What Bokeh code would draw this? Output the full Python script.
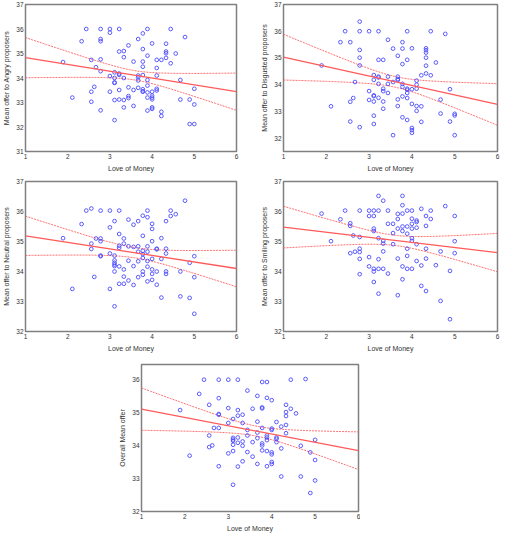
import numpy as np
from bokeh.plotting import figure
from bokeh.models import Range1d, FixedTicker, Spacer
from bokeh.layouts import column, row
from bokeh.embed import file_html
from bokeh.resources import INLINE

# Love of Money levels (x) shared by all panels
levels = [1.89, 2.11, 2.33, 2.44, 2.56, 2.63, 2.67, 2.78, 3.0, 3.11, 3.22, 3.33, 3.44,
          3.56, 3.67, 3.78, 3.89, 4.0, 4.11, 4.22, 4.33, 4.44, 4.56, 4.67, 4.78, 4.89, 5.0]

# Mean offers per level, one nested list per panel (aligned with levels)
angry_y = [[34.65], [33.2], [35.5], [36.0], [33.44, 33.03, 34.74], [33.64], [34.44],
           [36.0, 35.59, 35.5, 34.76, 34.28, 32.68], [36.0, 35.85, 34.08, 33.44],
           [34.23, 34.0, 33.82, 33.8, 33.1, 32.28], [36.0, 35.08, 34.18, 34.13, 33.51, 33.12],
           [35.1, 34.85, 34.0, 33.1, 32.8], [35.33, 33.62, 33.26, 33.18], [34.67, 33.51, 32.86],
           [35.59, 34.1, 34.03, 33.9, 33.6], [35.82, 35.18, 34.67, 34.46, 34.12, 33.54, 33.46, 33.44],
           [36.0, 34.91, 33.92, 33.69, 33.41, 33.2, 32.67], [35.41, 33.44, 33.28, 33.2, 33.13, 32.8, 32.74],
           [34.74, 34.41, 34.1, 33.56, 33.49], [34.74, 32.62, 32.45], [35.4, 35.08, 35.01, 34.82],
           [36.0, 34.6], [35.0], [33.92, 33.12], [35.67], [32.12, 33.12], [33.56, 32.92, 32.12]]

disgusted_y = [[34.72], [33.19], [35.59], [36.0], [35.59, 33.36, 32.62], [33.5], [34.1],
               [36.36, 36.0, 35.3, 35.01, 34.72, 32.41], [36.0, 33.76, 33.43],
               [34.36, 34.18, 33.6, 33.57, 33.37, 32.84, 32.53], [36.0, 34.93, 34.3, 34.27, 34.03, 33.51],
               [34.93, 33.85, 33.76, 33.37, 33.1], [35.68, 34.3, 34.03, 33.69], [35.35, 34.1, 32.11],
               [35.08, 34.3, 34.21, 34.17, 33.45, 33.2], [35.59, 35.35, 34.77, 34.03, 33.92, 33.56, 32.78],
               [36.0, 34.93, 33.85, 33.81, 33.69, 33.5, 32.68], [35.36, 33.83, 33.28, 32.38, 32.3, 32.2],
               [34.15, 34.0, 33.85, 33.2, 33.02], [34.35, 33.19, 32.61],
               [35.36, 35.29, 35.2, 35.01, 34.71, 34.42], [36.0, 34.35], [34.83], [33.44, 32.92],
               [35.9], [33.83, 32.62], [32.91, 32.85, 32.11]]

neutral_y = [[35.11], [33.42], [35.58], [36.03], [36.1, 34.93, 34.75], [33.82], [35.1],
             [36.03, 35.1, 35.01, 34.53, 34.51], [36.03, 35.47, 34.6, 33.42],
             [35.68, 34.53, 34.37, 34.29, 34.23, 34.18, 34.0, 32.84], [36.03, 35.25, 34.86, 34.79, 34.17, 33.59],
             [35.1, 34.93, 34.07, 33.83, 33.59], [35.73, 34.84, 34.36, 33.7], [35.56, 34.82, 34.18, 33.55],
             [35.68, 34.84, 34.66, 34.34, 33.81], [35.86, 35.19, 34.69, 34.58, 34.45, 34.0, 33.89],
             [36.03, 35.81, 34.84, 34.66, 34.35, 34.16, 33.67], [35.59, 35.42, 35.01, 34.42, 34.07, 33.92, 33.72],
             [34.76, 34.74, 34.0, 33.56], [35.11, 34.42, 33.13], [35.68, 34.76, 34.6, 34.0, 33.92],
             [36.03, 35.85], [35.91], [34.0, 33.17], [36.36], [34.29, 33.12], [34.51, 33.81, 32.59]]

smiling_y = [[35.93], [35.01], [35.74], [36.03], [35.61, 35.52, 34.61], [35.2], [34.66],
             [36.03, 35.15, 34.76, 34.65, 34.42, 33.91], [36.03, 35.85, 34.48, 34.17],
             [36.03, 35.85, 35.43, 35.35, 34.09, 34.0, 33.65], [36.52, 36.03, 35.11, 34.41, 34.09, 33.26],
             [36.36, 35.02, 34.93, 34.67, 34.09], [36.03, 35.59, 33.93], [35.59, 35.28, 34.91],
             [35.92, 35.75, 35.43, 34.43, 33.21], [36.52, 36.21, 35.93, 35.5, 35.35, 34.17, 33.74],
             [36.03, 35.5, 35.26, 34.76, 34.52, 34.09], [36.03, 35.76, 35.59, 35.43, 35.11, 35.02, 34.09],
             [35.7, 35.65, 35.46, 34.91, 34.35], [36.09, 34.2, 33.52], [35.85, 35.52, 34.76, 34.43, 33.35],
             [36.03, 35.75], [34.21], [34.67, 33.02], [36.18], [34.02, 32.41], [35.85, 35.01, 34.61]]

overall_y = [[35.07], [33.69], [35.56], [35.99], [35.23, 34.3, 33.95], [34.0], [34.53],
             [35.99, 35.43, 34.95, 34.93, 34.53, 33.37], [35.99, 35.13, 34.68, 33.76],
             [34.8, 34.23, 34.18, 34.14, 34.02, 33.83, 32.81], [35.99, 35.07, 34.9, 34.24, 34.08, 33.36],
             [34.93, 34.68, 34.12, 33.99, 33.52], [35.66, 34.47, 34.3, 33.8], [35.11, 34.1, 33.66],
             [35.5, 34.72, 34.39, 34.22, 33.44], [35.92, 35.15, 35.12, 34.53, 34.06, 34.0, 33.85],
             [35.92, 35.44, 34.3, 34.24, 34.16, 33.83, 33.37], [35.37, 34.51, 34.47, 33.79, 33.73, 33.5, 33.44],
             [34.71, 34.24, 34.2, 34.1], [34.57, 33.91, 33.06], [35.23, 35.01, 34.89, 34.62, 34.37],
             [35.99, 35.11], [34.97], [33.99, 33.06], [36.01], [33.79, 32.56], [34.17, 33.56, 32.94]]

# Fit line read at x=1 and x=6, and 95% band half-widths at x=1, x=6 and at the centre
fit_at_1 = [34.83, 35.03, 35.19, 35.48, 35.1]
fit_at_6 = [33.44, 33.26, 34.1, 34.63, 33.84]
band_w1 = [0.82, 0.855, 0.655, 0.695, 0.64]
band_w6 = [0.76, 0.78, 0.61, 0.64, 0.57]
band_w0 = [0.19, 0.2, 0.17, 0.17, 0.15]

y_titles = ["Mean offer to Angry proposers", "Mean offer to Disgusted proposers",
            "Mean offer to Neutral proposers", "Mean offer to Smiling proposers",
            "Overall Mean offer"]
x_title = "Love of Money"
y_limits = [(31, 37), (31.5, 37), (32, 37), (32, 37), (32, 36.45)]
y_ticks = [[31, 32, 33, 34, 35, 36, 37], [32, 33, 34, 35, 36, 37], [32, 33, 34, 35, 36, 37],
           [32, 33, 34, 35, 36, 37], [32, 33, 34, 35, 36]]
x_ticks = [1, 2, 3, 4, 5, 6]

FONT = "Liberation Sans"


def expand(ys_nested):
    xs, ys = [], []
    for lv, group in zip(levels, ys_nested):
        for v in group:
            xs.append(lv)
            ys.append(v)
    return xs, ys


def make(i, ys_nested, W, H, L, R, T, B):
    p = figure(width=W, height=H, x_range=Range1d(1, 6), y_range=Range1d(*y_limits[i]),
               output_backend="svg", toolbar_location=None,
               min_border_left=L, min_border_right=R, min_border_top=T, min_border_bottom=B)
    p.xgrid.visible = False
    p.ygrid.visible = False
    p.background_fill_color = "white"
    p.border_fill_color = "white"
    p.outline_line_color = "#808080"
    p.outline_line_width = 1.5
    p.xaxis.ticker = FixedTicker(ticks=x_ticks)
    p.yaxis.ticker = FixedTicker(ticks=y_ticks[i])
    for ax in (p.xaxis[0], p.yaxis[0]):
        ax.axis_line_color = None
        ax.major_tick_line_color = None
        ax.minor_tick_line_color = None
        ax.major_tick_out = 0
        ax.major_tick_in = 0
        ax.major_label_standoff = 2
        ax.axis_label_standoff = 3
        ax.major_label_text_font = FONT
        ax.major_label_text_font_size = "6.5px"
        ax.major_label_text_color = "#333333"
        ax.axis_label_text_font = FONT
        ax.axis_label_text_font_size = "7px"
        ax.axis_label_text_font_style = "normal"
        ax.axis_label_text_color = "#333333"
    p.xaxis.axis_label = x_title
    p.yaxis.axis_label = y_titles[i]

    xs, ys = expand(ys_nested)
    # confidence band and fit line
    gx = np.linspace(1, 6, 121)
    y1, y6 = fit_at_1[i], fit_at_6[i]
    w1, w6, w0 = band_w1[i], band_w6[i], band_w0[i]
    a = w0 ** 2
    r = np.sqrt((w1 ** 2 - a) / (w6 ** 2 - a))
    c = (1 + 6 * r) / (1 + r)
    b = (w1 ** 2 - a) / (c - 1) ** 2
    fit = y1 + (y6 - y1) * (gx - 1) / 5
    hw = np.sqrt(a + b * (gx - c) ** 2)
    p.line(gx, fit + hw, line_color="#ff6b6b", line_width=1, line_dash="2 1")
    p.line(gx, fit - hw, line_color="#ff6b6b", line_width=1, line_dash="2 1")
    p.scatter(xs, ys, marker="circle", size=3.7, fill_color=None,
              line_color="#4a4aff", line_width=0.9)
    p.line([1, 6], [y1, y6], line_color="#ff5a5a", line_width=1.3)
    return p


p1 = make(0, angry_y, 250, 176, 22, 14, 4, 22)
p2 = make(1, disgusted_y, 250, 176, 33, 3, 4, 25)
p3 = make(2, neutral_y, 250, 178, 22, 14, 5, 23)
p4 = make(3, smiling_y, 250, 178, 33, 3, 5, 23)
p5 = make(4, overall_y, 252, 180, 33, 2, 10, 22)

layout = column(row(p1, p2), row(p3, p4), row(Spacer(width=108, height=180), p5))

open("out.html", "w").write(file_html(layout, INLINE))
